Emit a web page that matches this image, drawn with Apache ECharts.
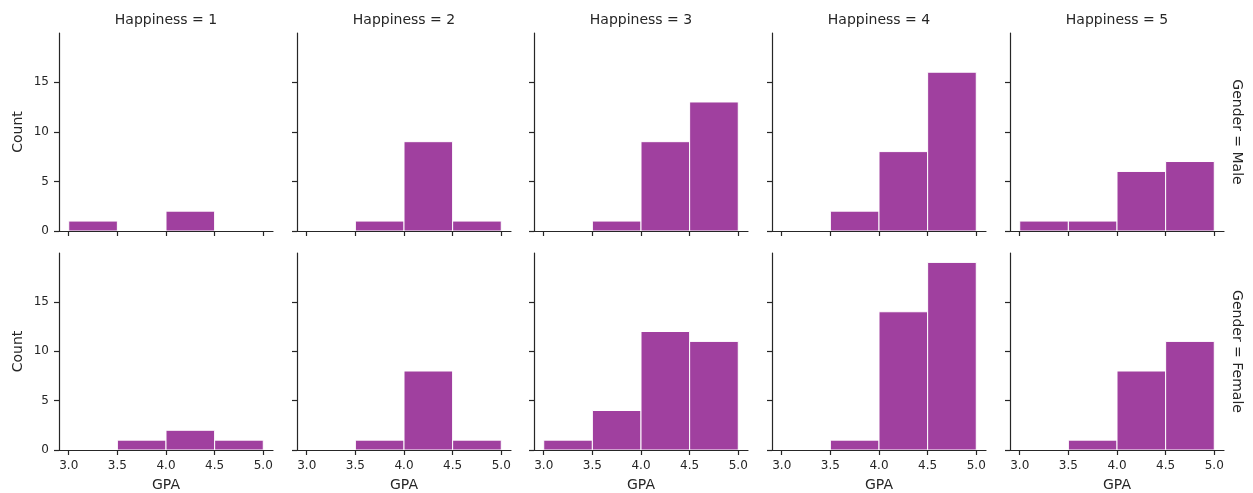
<!DOCTYPE html>
<html><head><meta charset="utf-8">
<script src="https://cdn.jsdelivr.net/npm/echarts@6/dist/echarts.min.js"></script>
<style>html,body{margin:0;padding:0;background:#fff}#c{width:1253px;height:493px}</style>
</head><body><div id="c"></div>
<script>
// Bin edges (GPA)
const binEdges = [3.0, 3.5, 4.0, 4.5, 5.0];
const happinessLevels = [1, 2, 3, 4, 5];
const genders = ['Male', 'Female'];
// Counts per bin for each Happiness level
const maleCounts1 = [1, 0, 2, 0];
const maleCounts2 = [0, 1, 9, 1];
const maleCounts3 = [0, 1, 9, 13];
const maleCounts4 = [0, 2, 8, 16];
const maleCounts5 = [1, 1, 6, 7];
const femaleCounts1 = [0, 1, 2, 1];
const femaleCounts2 = [0, 1, 8, 1];
const femaleCounts3 = [1, 4, 12, 11];
const femaleCounts4 = [0, 1, 14, 19];
const femaleCounts5 = [0, 1, 8, 11];
const xTicks = [3.0, 3.5, 4.0, 4.5, 5.0];
const yTicks = [0, 5, 10, 15];

const counts = {
  Male: [maleCounts1, maleCounts2, maleCounts3, maleCounts4, maleCounts5],
  Female: [femaleCounts1, femaleCounts2, femaleCounts3, femaleCounts4, femaleCounts5]
};

const TXT = '#262626';
const FONT = 'DejaVu Sans';
const lefts = [59, 297, 534, 772, 1010];
const W = 214;
const rowTop = [33, 253];
const rowH = [198, 197];

const grids = [], xAxes = [], yAxes = [], series = [], graphics = [];
let gi = 0;
genders.forEach((g, r) => {
  happinessLevels.forEach((h, c) => {
    grids.push({left: lefts[c], top: rowTop[r], width: W, height: rowH[r], containLabel: false});
    xAxes.push({
      type: 'value', gridIndex: gi, min: 2.9, max: 5.1, z: 5,
      name: r === 1 ? 'GPA' : '', nameLocation: 'middle', nameGap: 28,
      nameTextStyle: {color: TXT, fontFamily: FONT, fontSize: 14},
      axisLine: {show: true, onZero: false, lineStyle: {color: TXT, width: 1.2}},
      axisTick: {show: true, length: 5, customValues: xTicks, lineStyle: {color: TXT, width: 1.2}},
      axisLabel: {show: r === 1, customValues: xTicks, margin: 10, color: TXT, fontFamily: FONT, fontSize: 12,
        formatter: v => v.toFixed(1)},
      splitLine: {show: false}
    });
    yAxes.push({
      type: 'value', gridIndex: gi, min: 0, max: 19.95, z: 5,
      name: c === 0 ? 'Count' : '', nameLocation: 'middle', nameGap: 34, nameRotate: 90,
      nameTextStyle: {color: TXT, fontFamily: FONT, fontSize: 14},
      axisLine: {show: true, lineStyle: {color: TXT, width: 1.2}},
      axisTick: {show: true, length: 5, customValues: yTicks, lineStyle: {color: TXT, width: 1.2}},
      axisLabel: {show: c === 0, customValues: yTicks, margin: 10, color: TXT, fontFamily: FONT, fontSize: 12},
      splitLine: {show: false}
    });
    const data = counts[g][c].map((v, i) => [binEdges[i], binEdges[i + 1], v]);
    series.push({
      type: 'custom', xAxisIndex: gi, yAxisIndex: gi, data: data, z: 1,
      encode: {x: [0, 1], y: 2},
      renderItem: (params, api) => {
        if (!(api.value(2) > 0)) return null;
        const p0 = api.coord([api.value(0), 0]);
        const p1 = api.coord([api.value(1), api.value(2)]);
        return {
          type: 'rect',
          shape: {x: p0[0], y: p1[1], width: p1[0] - p0[0], height: p0[1] - p1[1]},
          style: {fill: '#a0409f', stroke: '#ffffff', lineWidth: 1}
        };
      }
    });
    if (r === 0) {
      graphics.push({type: 'text', x: lefts[c] + W / 2, y: 20,
        style: {text: 'Happiness = ' + h, fill: TXT, font: '14px "DejaVu Sans"', align: 'center', verticalAlign: 'middle'}});
    }
    gi++;
  });
  graphics.push({type: 'text', x: 1237, y: rowTop[r] + rowH[r] / 2, rotation: -Math.PI / 2,
    style: {text: 'Gender = ' + g, fill: TXT, font: '14px "DejaVu Sans"', align: 'center', verticalAlign: 'middle'}});
});

const chart = echarts.init(document.getElementById('c'), null, {renderer: 'canvas'});
chart.setOption({
  animation: false,
  backgroundColor: '#ffffff',
  grid: grids, xAxis: xAxes, yAxis: yAxes, series: series, graphic: graphics
});
</script></body></html>
